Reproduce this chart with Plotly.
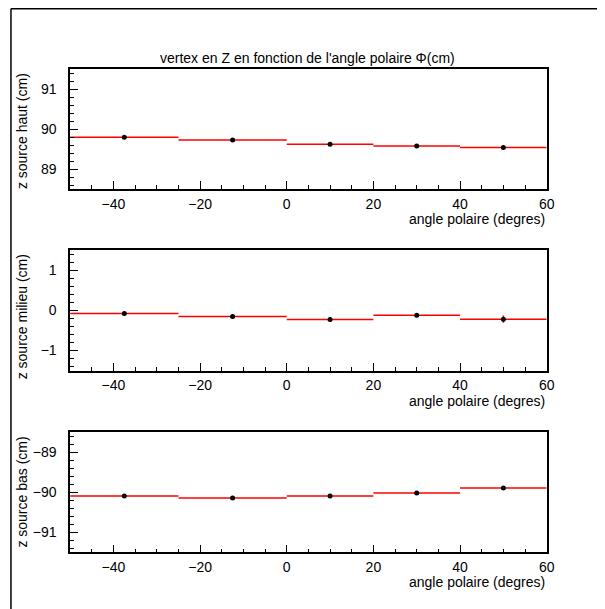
import plotly.graph_objects as go

# bins (degrees)
bin_centers = [-37.5, -12.5, 10, 30, 50]
bin_halfwidths = [12.5, 12.5, 10, 10, 10]

# z vertex per source (cm)
z_haut = [89.80, 89.73, 89.62, 89.58, 89.54]
z_haut_err = [0.01, 0.01, 0.01, 0.01, 0.02]
z_milieu = [-0.08, -0.15, -0.23, -0.12, -0.22]
z_milieu_err = [0.02, 0.02, 0.02, 0.02, 0.09]
z_bas = [-90.09, -90.14, -90.09, -90.02, -89.89]
z_bas_err = [0.01, 0.01, 0.01, 0.01, 0.02]

panels = [
    ("z source haut (cm)", z_haut, z_haut_err, [88.5, 91.5]),
    ("z source milieu (cm)", z_milieu, z_milieu_err, [-1.5, 1.5]),
    ("z source bas (cm)", z_bas, z_bas_err, [-91.5, -88.5]),
]

title_text = "vertex en Z en fonction de l'angle polaire \u03a6(cm)"
xtitle = "angle polaire (degres)"

# page has an 8px body margin -> figure is offset by it
OFF = 8
W, H = 605 - OFF, 609 - OFF
xl, xr = 71 - OFF, 554 - OFF
tops = [69.3 - OFF, 250.0 - OFF, 432.3 - OFF]
bots = [189.0 - OFF, 370.7 - OFF, 552.3 - OFF]

FONT = "Liberation Sans"

fig = go.Figure()
annotations = []
for i, (ylab, vals, errs, yr) in enumerate(panels):
    n = "" if i == 0 else str(i + 1)
    fig.add_trace(go.Scatter(
        x=bin_centers, y=vals,
        mode="markers",
        marker=dict(color="black", size=5),
        error_x=dict(type="data", array=bin_halfwidths, color="red", thickness=1.5, width=0),
        error_y=dict(type="data", array=errs, color="red", thickness=1.5, width=0),
        xaxis="x" + n, yaxis="y" + n, showlegend=False,
    ))
    dom_y = [1 - bots[i] / H, 1 - tops[i] / H]
    common = dict(showline=True, linecolor="black", linewidth=1.5, mirror=True,
                  ticks="inside", tickcolor="black", tickwidth=1, showgrid=False,
                  zeroline=False, tickfont=dict(family=FONT, size=14, color="black"))
    fig.update_layout(**{
        "xaxis" + n: dict(domain=[xl / W, xr / W], range=[-50, 60], anchor="y" + n,
                          tickmode="linear", tick0=0, dtick=20, ticklen=8,
                          minor=dict(tickmode="linear", tick0=0, dtick=5, ticklen=4,
                                     ticks="inside", tickcolor="black", tickwidth=1,
                                     showgrid=False),
                          ticklabelstandoff=1, **common),
        "yaxis" + n: dict(domain=dom_y, range=yr, anchor="x" + n,
                          tickmode="linear", tick0=0, dtick=1, ticklen=8,
                          minor=dict(tickmode="linear", tick0=0, dtick=0.2, ticklen=4,
                                     ticks="inside", tickcolor="black", tickwidth=1,
                                     showgrid=False),
                          ticklabelstandoff=9, **common),
    })
    annotations.append(dict(text=xtitle, x=xr / W + 0.001, y=1 - (bots[i] + 30) / H,
                            xref="paper", yref="paper", xanchor="right", yanchor="middle",
                            showarrow=False, font=dict(family=FONT, size=14, color="black")))
    annotations.append(dict(text=ylab, x=(22 - OFF) / W, y=dom_y[1] - 2 / H,
                            xref="paper", yref="paper",
                            xanchor="center", yanchor="top", textangle=-90,
                            showarrow=False, font=dict(family=FONT, size=14, color="black")))

annotations.append(dict(text=title_text, x=(312 - OFF) / W, y=1 - (58 - OFF) / H,
                        xref="paper", yref="paper", xanchor="center", yanchor="middle",
                        showarrow=False, font=dict(family=FONT, size=14, color="black")))

ytop = 1 - 0.75 / H
xleft = (11 - OFF) / W
fig.update_layout(
    width=W, height=H, margin=dict(l=0, r=0, t=0, b=0),
    paper_bgcolor="white", plot_bgcolor="white",
    annotations=annotations,
    shapes=[
        dict(type="line", xref="paper", yref="paper", x0=xleft, x1=1.0, y0=ytop, y1=ytop,
             line=dict(color="black", width=1.5)),
        dict(type="line", xref="paper", yref="paper", x0=xleft, x1=xleft, y0=ytop, y1=0,
             line=dict(color="black", width=1.5)),
    ],
)

fig.write_html("out.html")
